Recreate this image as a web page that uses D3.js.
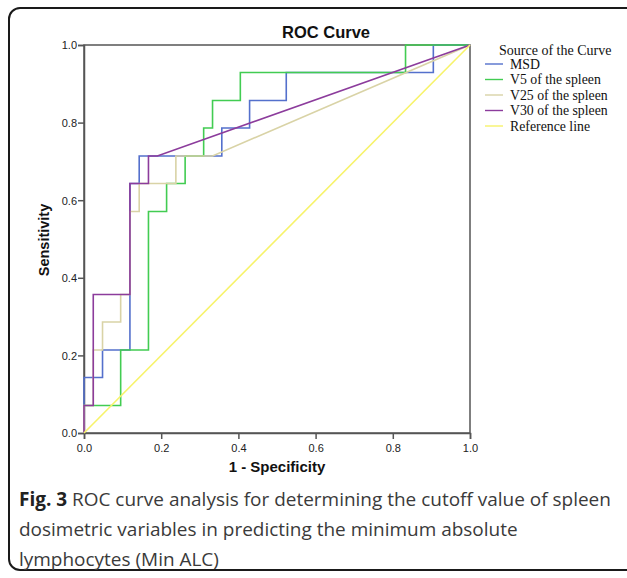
<!DOCTYPE html>
<html>
<head>
<meta charset="utf-8">
<script src="https://cdn.jsdelivr.net/npm/d3@7"></script>
<style>
  body { margin: 0; background: #fff; }
  svg { display: block; }
</style>
</head>
<body>
<svg id="chart"></svg>
<script>
// ROC points [1 - specificity, sensitivity] (steps of 1/42 and 1/14)
const msd = [[0,0],[0,0.143],[0.048,0.143],[0.048,0.214],[0.119,0.214],[0.119,0.643],[0.143,0.643],[0.143,0.714],
  [0.357,0.714],[0.357,0.786],[0.429,0.786],[0.429,0.857],[0.524,0.857],[0.524,0.929],[0.905,0.929],[0.905,1],[1,1]];
const v5 = [[0,0],[0,0.071],[0.095,0.071],[0.095,0.214],[0.167,0.214],[0.167,0.571],[0.214,0.571],[0.214,0.643],
  [0.262,0.643],[0.262,0.714],[0.310,0.714],[0.310,0.786],[0.333,0.786],[0.333,0.857],[0.405,0.857],[0.405,0.929],
  [0.833,0.929],[0.833,1],[1,1]];
const v25 = [[0,0],[0,0.071],[0.024,0.071],[0.024,0.214],[0.048,0.214],[0.048,0.286],[0.095,0.286],[0.095,0.357],
  [0.119,0.357],[0.119,0.571],[0.143,0.571],[0.143,0.643],[0.238,0.643],[0.238,0.714],[0.333,0.714],[1,1]];
const v30 = [[0,0],[0,0.071],[0.024,0.071],[0.024,0.357],[0.119,0.357],[0.119,0.643],[0.167,0.643],[0.167,0.714],
  [0.190,0.714],[1,1]];
const refLine = [[0,0],[1,1]];

const seriesNames = ["MSD", "V5 of the spleen", "V25 of the spleen", "V30 of the spleen", "Reference line"];
const seriesColors = ["#5470cc", "#42cc52", "#d9d3a6", "#8c3c9c", "#f7f36a"];
const ticks = [0, 0.2, 0.4, 0.6, 0.8, 1.0];
const captionLines = [
  ["Fig. 3", " ROC curve analysis for determining the cutoff value of spleen"],
  ["", "dosimetric variables in predicting the minimum absolute"],
  ["", "lymphocytes (Min ALC)"]
];

const W = 627, H = 578;
const svg = d3.select("#chart").attr("width", W).attr("height", H);

// outer rounded frame (right side runs off the picture)
svg.append("rect")
  .attr("x", 9).attr("y", 8).attr("width", 640).attr("height", 562)
  .attr("rx", 11).attr("ry", 11)
  .attr("fill", "none").attr("stroke", "#1a1a1a").attr("stroke-width", 2);

const plot = {left: 84, right: 470, top: 45, bottom: 433};
const x = d3.scaleLinear().domain([0, 1]).range([plot.left, plot.right]);
const y = d3.scaleLinear().domain([0, 1]).range([plot.bottom, plot.top]);

// plot box
svg.append("rect")
  .attr("x", plot.left).attr("y", plot.top)
  .attr("width", plot.right - plot.left).attr("height", plot.bottom - plot.top)
  .attr("fill", "none").attr("stroke", "#555").attr("stroke-width", 1.5);

const axisFont = "'Liberation Sans', Arial, sans-serif";

const xAxis = svg.append("g")
  .attr("transform", `translate(0,${plot.bottom})`)
  .call(d3.axisBottom(x).tickValues(ticks).tickFormat(d3.format(".1f")).tickSize(6));
const yAxis = svg.append("g")
  .attr("transform", `translate(${plot.left},0)`)
  .call(d3.axisLeft(y).tickValues(ticks).tickFormat(d3.format(".1f")).tickSize(6));

[xAxis, yAxis].forEach(a => {
  a.select(".domain").attr("stroke", "#555").attr("stroke-width", 1.5);
  a.selectAll(".tick line").attr("stroke", "#555").attr("stroke-width", 1.5);
  a.selectAll(".tick text").attr("font-family", axisFont).attr("font-size", 11).attr("fill", "#222");
});
xAxis.selectAll(".tick text").attr("dy", "0.95em");
yAxis.selectAll(".tick text").attr("x", -7).attr("dy", "0.35em");

// curves
const line = d3.line().x(d => x(d[0])).y(d => y(d[1]));
const allSeries = [msd, v5, v25, v30, refLine];
svg.append("g").selectAll("path")
  .data(allSeries)
  .join("path")
    .attr("d", line)
    .attr("fill", "none")
    .attr("stroke", (d, i) => seriesColors[i])
    .attr("stroke-width", 1.6);

// titles
svg.append("text")
  .attr("x", 326).attr("y", 38)
  .attr("text-anchor", "middle")
  .attr("font-family", axisFont).attr("font-weight", "bold").attr("font-size", 16.5)
  .attr("fill", "#111")
  .text("ROC Curve");

svg.append("text")
  .attr("x", 277).attr("y", 472)
  .attr("text-anchor", "middle")
  .attr("font-family", axisFont).attr("font-weight", "bold").attr("font-size", 15)
  .attr("fill", "#111")
  .text("1 - Specificity");

svg.append("text")
  .attr("transform", "translate(49,240) rotate(-90)")
  .attr("text-anchor", "middle")
  .attr("font-family", axisFont).attr("font-weight", "bold").attr("font-size", 14.5)
  .attr("fill", "#111")
  .text("Sensitivity");

// legend
const legendFont = "'Liberation Serif', 'Times New Roman', serif";
svg.append("text")
  .attr("x", 499).attr("y", 55)
  .attr("font-family", legendFont).attr("font-size", 14).attr("fill", "#111")
  .text("Source of the Curve");

const legend = svg.append("g").selectAll("g")
  .data(seriesNames)
  .join("g")
    .attr("transform", (d, i) => `translate(0,${64 + i * 15.5})`);
legend.append("line")
  .attr("x1", 485).attr("x2", 503)
  .attr("stroke", (d, i) => seriesColors[i]).attr("stroke-width", 1.4);
legend.append("text")
  .attr("x", 510).attr("y", 4.5)
  .attr("font-family", legendFont).attr("font-size", 13.8).attr("fill", "#111")
  .text(d => d);

// caption
const caption = svg.append("g").attr("font-family", "'Open Sans', sans-serif").attr("fill", "#3a3a3a");
const capText = caption.selectAll("text")
  .data(captionLines)
  .join("text")
    .attr("x", 19)
    .attr("y", (d, i) => 506 + i * 30)
    .attr("font-size", 20);
capText.append("tspan").attr("font-weight", "bold").attr("fill", "#222").text(d => d[0]);
capText.append("tspan").text(d => d[1]);

// fit the first caption line to its width in the figure
const firstWidth = capText.node().getComputedTextLength();
capText.attr("font-size", 20 * 592 / firstWidth);
</script>
</body>
</html>
